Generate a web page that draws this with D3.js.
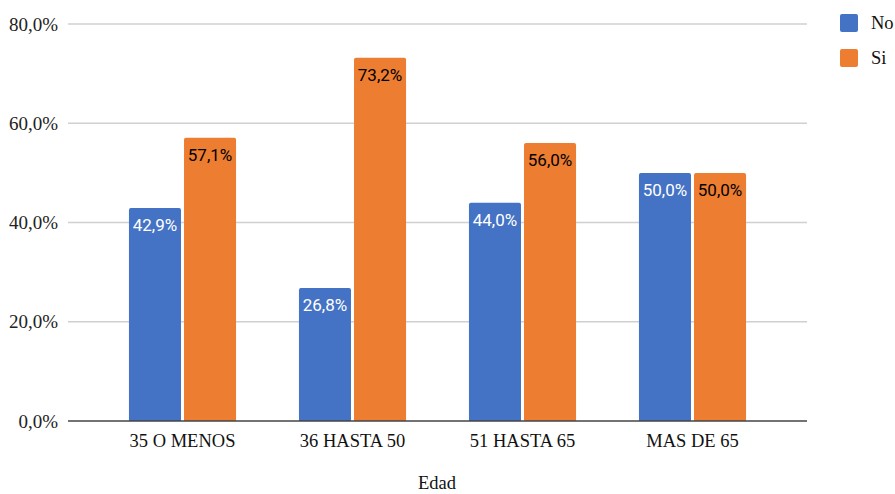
<!DOCTYPE html>
<html>
<head>
<meta charset="utf-8">
<script src="https://cdn.jsdelivr.net/npm/d3@7"></script>
<style>
  html, body { margin: 0; padding: 0; background: #fff; }
  svg { display: block; }
</style>
</head>
<body>
<svg id="chart" width="895" height="494"></svg>
<script>
// Age groups and share of answers per group
const categories = ["35 O MENOS", "36 HASTA 50", "51 HASTA 65", "MAS DE 65"];
const seriesNames = ["No", "Si"];
const valuesNo = [42.9, 26.8, 44.0, 50.0];
const valuesSi = [57.1, 73.2, 56.0, 50.0];
const yTicks = [0, 20, 40, 60, 80];
const xTitle = "Edad";

const colors = { No: "#4472c4", Si: "#ed7d31" };
const labelColors = { No: "#ffffff", Si: "#000000" };

const rows = categories.map((c, i) => ({ cat: c, No: valuesNo[i], Si: valuesSi[i] }));

const svg = d3.select("#chart");
const plot = { left: 68, right: 807, top: 24, bottom: 421 };

const y = d3.scaleLinear().domain([0, 80]).range([plot.bottom, plot.top]);
const x0 = d3.scaleBand().domain(categories).range([97.5, 777.5])
  .paddingInner(0.37).paddingOuter(0.185);
const x1 = d3.scaleBand().domain(seriesNames).range([0, x0.bandwidth()]).paddingInner(0.055);

const fmt = v => d3.format(".1f")(v).replace(".", ",") + "%";
const serif = "'Liberation Serif', 'Times New Roman', serif";
const sans = "Roboto, 'Noto Sans', Arial, sans-serif";

// Horizontal gridlines
svg.append("g")
  .selectAll("line")
  .data(yTicks.filter(t => t > 0))
  .join("line")
  .attr("x1", plot.left).attr("x2", plot.right)
  .attr("y1", d => y(d)).attr("y2", d => y(d))
  .attr("stroke", "#d0d0d0").attr("stroke-width", 1.3);

// Y axis tick labels
svg.append("g")
  .selectAll("text")
  .data(yTicks)
  .join("text")
  .attr("x", 58).attr("y", d => y(d))
  .attr("dy", "0.35em")
  .attr("text-anchor", "end")
  .attr("font-family", serif).attr("font-size", 19).attr("fill", "#222")
  .text(d => fmt(d));

// Bars
const groups = svg.append("g")
  .selectAll("g")
  .data(rows)
  .join("g")
  .attr("transform", d => `translate(${x0(d.cat)},0)`);

const barData = d => seriesNames.map(s => ({ s, v: d[s] }));

groups.selectAll("path")
  .data(barData)
  .join("path")
  .attr("d", d => {
    const bx = x1(d.s), bw = x1.bandwidth();
    const top = y(d.v), bot = y(0), r = 2;
    return `M${bx},${bot} V${top + r} Q${bx},${top} ${bx + r},${top} H${bx + bw - r} Q${bx + bw},${top} ${bx + bw},${top + r} V${bot} Z`;
  })
  .attr("fill", d => colors[d.s]);

// Value labels inside the bars
groups.selectAll("text")
  .data(barData)
  .join("text")
  .attr("x", d => x1(d.s) + x1.bandwidth() / 2)
  .attr("y", d => y(d.v) + 23)
  .attr("text-anchor", "middle")
  .attr("font-family", sans).attr("font-size", 17)
  .attr("fill", d => labelColors[d.s])
  .text(d => fmt(d.v));

// Baseline
svg.append("line")
  .attr("x1", plot.left).attr("x2", plot.right)
  .attr("y1", y(0)).attr("y2", y(0))
  .attr("stroke", "#444").attr("stroke-width", 1.5);

// Category labels
svg.append("g")
  .selectAll("text")
  .data(categories)
  .join("text")
  .attr("x", d => x0(d) + x0.bandwidth() / 2)
  .attr("y", 447)
  .attr("text-anchor", "middle")
  .attr("font-family", serif).attr("font-size", 18.5).attr("fill", "#111")
  .text(d => d);

// Axis title
svg.append("text")
  .attr("x", 437).attr("y", 489)
  .attr("text-anchor", "middle")
  .attr("font-family", serif).attr("font-size", 18.5).attr("fill", "#111")
  .text(xTitle);

// Legend
const legend = svg.append("g")
  .selectAll("g")
  .data(seriesNames)
  .join("g")
  .attr("transform", (d, i) => `translate(840,${14 + i * 35})`);

legend.append("rect")
  .attr("width", 18).attr("height", 18).attr("rx", 2)
  .attr("fill", d => colors[d]);

legend.append("text")
  .attr("x", 31).attr("y", 9).attr("dy", "0.35em")
  .attr("font-family", serif).attr("font-size", 18.5).attr("fill", "#111")
  .text(d => d);
</script>
</body>
</html>
